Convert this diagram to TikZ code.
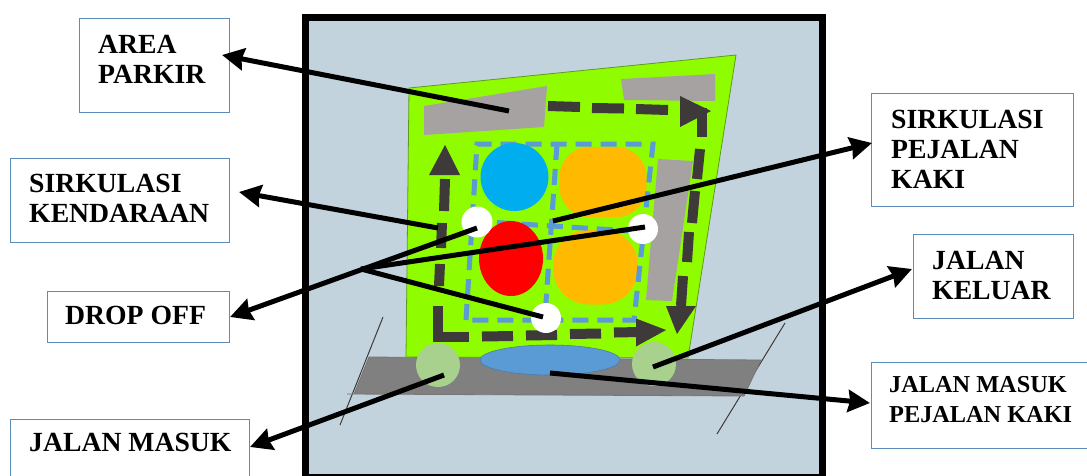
\documentclass[tikz,border=0pt]{standalone}
\usepackage{fontspec}
\setmainfont{Liberation Serif}
\usetikzlibrary{arrows.meta,shapes.geometric}
\definecolor{bgblue}{HTML}{C3D3DE}
\definecolor{lawn}{HTML}{8FFC00}
\definecolor{lawnedge}{HTML}{5E9A20}
\definecolor{parkgray}{HTML}{A6A2A2}
\definecolor{roadgray}{HTML}{808080}
\definecolor{route}{HTML}{3F3A3A}
\definecolor{walk}{HTML}{5B9BD5}
\definecolor{sky}{HTML}{00AEEF}
\definecolor{amber}{HTML}{FFBA00}
\definecolor{gate}{HTML}{A9D18E}
\definecolor{boxedge}{HTML}{5B8DB8}
\tikzset{
  x=1pt,y=-1pt,
  labelbox/.style={draw=boxedge,line width=1pt,fill=white,anchor=north west,inner sep=0pt,minimum width=#1},
  labeltext/.style={font=\fontsize{27.7}{30}\selectfont\bfseries,align=left,anchor=west,inner sep=0pt,text=black},
  callout/.style={line width=5pt,draw=black,-{Stealth[length=22pt,width=22pt,inset=2pt]}},
  plainline/.style={line width=5pt,draw=black},
  routeseg/.style={draw=route,line width=10pt},
  routehead/.style={fill=route,draw=none},
  walkline/.style={draw=walk,line width=5pt,dash pattern=on 16pt off 9pt},
  thinline/.style={draw=route,line width=1pt}
}
\begin{document}
\begin{tikzpicture}
\useasboundingbox (0,0) rectangle (1087,475);
% frame
\node[draw=black,line width=7pt,fill=bgblue,anchor=north west,minimum width=517.5pt,minimum height=460pt,inner sep=0pt] (frame) at (301.5,14) {};
% road and thin lines
\draw[thinline] (383,317) -- (340,425);
\draw[thinline] (785,323) -- (717,434);
\draw[draw=route!70,fill=roadgray,line width=.8pt] (369,357) -- (761,360) -- (744,396) -- (347,394) -- (354,394) -- cycle;
% site
\draw[draw=lawnedge,fill=lawn,line width=.8pt] (409,88) -- (736,55) -- (688,358) -- (406,357) -- cycle;
% parking
\fill[parkgray] (424,106) -- (547,86) -- (544,127) -- (424,135) -- cycle;
\fill[parkgray] (621,79) -- (715,74) -- (715,101) -- (624,100) -- cycle;
\fill[parkgray] (658,159) -- (693,161) -- (672,301) -- (646,300) -- cycle;
% buildings and pedestrian paths
\node[rounded corners=30pt,fill=amber,minimum width=87pt,minimum height=70pt,inner sep=0pt] (orangeA) at (603,182) {};
\node[rounded corners=36pt,fill=amber,minimum width=85pt,minimum height=75pt,inner sep=0pt] (orangeB) at (595.5,267) {};
\draw[walkline] (466,320) -- (477,144) -- (653,144) -- (634,320) -- cycle;
\draw[walkline] (472,221) -- (648,232);
\draw[walkline] (557,144) -- (545,316);
\node[circle,fill=sky,minimum size=68pt,inner sep=0pt] (blue) at (514.5,177) {};
\node[ellipse,fill=red,minimum width=64pt,minimum height=75pt,inner sep=0pt] (redhall) at (511,258.5) {};
% vehicle route
\draw[routeseg,line join=miter] (438,306) -- (438,337) -- (469,337);
\draw[routeseg] (482,336.5) -- (513,336);
\draw[routeseg] (526,335.5) -- (557,335);
\draw[routeseg] (570,334) -- (601,333.5);
\draw[routeseg] (614,332.5) -- (640,332);
\path[routehead] (636,318.5) -- (666,330) -- (636,346.5) -- cycle;
\draw[routeseg] (440,264) -- (439,286);
\draw[routeseg] (442,223) -- (441,248);
\draw[routeseg] (445,179) -- (444,211);
\path[routehead] (429,175) -- (460,175) -- (445,145) -- cycle;
\draw[routeseg] (548,106) -- (580,107);
\draw[routeseg] (592,108) -- (624,108.5);
\draw[routeseg] (636,109) -- (668,110);
\path[routehead] (680,96) -- (711,111) -- (680,127) -- cycle;
\draw[routeseg] (702,108) -- (702,137);
\draw[routeseg] (700,149) -- (697,179);
\draw[routeseg] (695,191) -- (692,223);
\draw[routeseg] (689,232) -- (687,262);
\draw[routeseg] (683,276) -- (681,306);
\path[routehead] (666,306) -- (696,306) -- (677,334) -- cycle;
% gates and stops
\node[circle,fill=gate,minimum size=44pt,inner sep=0pt] (gateIn) at (438,365) {};
\node[circle,fill=gate,minimum size=44pt,inner sep=0pt] (gateOut) at (654,364) {};
\node[ellipse,draw=walk!80!black,fill=walk,line width=.6pt,minimum width=140pt,minimum height=30pt,inner sep=0pt] (entry) at (550,360) {};
\node[circle,fill=white,minimum size=31pt,inner sep=0pt] (stopA) at (477,222) {};
\node[circle,fill=white,minimum size=30pt,inner sep=0pt] (stopB) at (643,229) {};
\node[circle,fill=white,minimum size=30pt,inner sep=0pt] (stopC) at (546,318) {};
% label boxes
\node[labelbox=150pt,minimum height=94pt] (area) at (79,18) {};
\node[labeltext] (areatxt) at (98,59) {AREA\\PARKIR};
\node[labelbox=219pt,minimum height=84pt] (kend) at (10,158) {};
\node[labeltext] (kendtxt) at (29,198.5) {SIRKULASI\\KENDARAAN};
\node[labelbox=182pt,minimum height=51pt] (drop) at (47,291) {};
\node[labeltext] (droptxt) at (65,315) {DROP OFF};
\node[labelbox=239pt,minimum height=58pt] (masuk) at (10,419) {};
\node[labeltext] (masuktxt) at (29,442) {JALAN MASUK};
\node[labelbox=202pt,minimum height=113pt] (pej) at (871,93) {};
\node[labeltext] (pejtxt) at (891,149) {SIRKULASI\\PEJALAN\\KAKI};
\node[labelbox=160pt,minimum height=84pt] (kel) at (913,234) {};
\node[labeltext] (keltxt) at (932,275) {JALAN\\KELUAR};
\node[labelbox=216pt,minimum height=86pt] (pmasuk) at (871,362) {};
\node[labeltext,font=\fontsize{24.3}{30}\selectfont\bfseries] (pmasuktxt) at (889,400) {JALAN MASUK\\PEJALAN KAKI};
% callouts
\coordinate (cArea) at (509,111);
\coordinate (cAreaTip) at (222,55);
\coordinate (cKend) at (438,228);
\coordinate (cKendTip) at (239,192);
\coordinate (cDrop) at (477,228);
\coordinate (cDropTip) at (230,317);
\coordinate (cHub) at (361,269);
\coordinate (cB) at (645,227);
\coordinate (cC) at (543,317);
\coordinate (cPej) at (553,221);
\coordinate (cPejTip) at (872,143);
\coordinate (cOut) at (653,367);
\coordinate (cOutTip) at (912,269);
\coordinate (cEntry) at (550,373);
\coordinate (cEntryTip) at (870,403);
\coordinate (cIn) at (444,375);
\coordinate (cInTip) at (250,447);
\draw[callout] (cArea) -- (cAreaTip);
\draw[callout] (cKend) -- (cKendTip);
\draw[callout] (cDrop) -- (cDropTip);
\draw[plainline] (cHub) -- (cB);
\draw[plainline] (cHub) -- (cC);
\draw[callout] (cPej) -- (cPejTip);
\draw[callout] (cOut) -- (cOutTip);
\draw[callout] (cEntry) -- (cEntryTip);
\draw[callout] (cIn) -- (cInTip);
\end{tikzpicture}
\end{document}
